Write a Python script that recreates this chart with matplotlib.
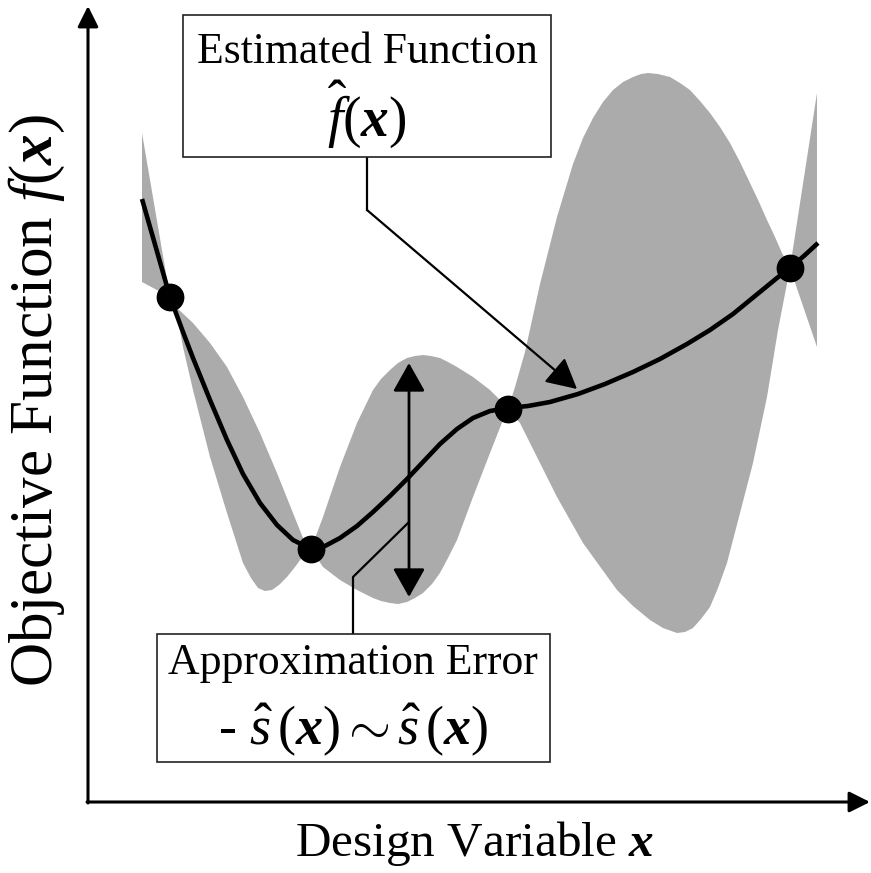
import numpy as np
import matplotlib
matplotlib.use("Agg")
import matplotlib.pyplot as plt
from matplotlib.patches import Rectangle

plt.rcParams['font.family'] = ['Liberation Serif', 'DejaVu Serif']
plt.rcParams['mathtext.fontset'] = 'custom'
plt.rcParams['mathtext.rm'] = 'Liberation Serif'
plt.rcParams['mathtext.it'] = 'Liberation Serif:italic'
plt.rcParams['mathtext.bf'] = 'Liberation Serif:bold'
plt.rcParams['mathtext.bfit'] = 'Liberation Serif:italic:bold'

# estimated function f^(x)
curve_x = [54, 68, 82, 95, 105, 122, 139, 155, 172, 189, 205, 223, 237, 252, 269, 285,
           302, 319, 335, 352, 369, 385, 402, 420, 440, 462, 490, 517, 545, 572, 599,
           622, 645, 667, 689, 702, 717, 730]
curve_y = [603, 554, 505, 470, 444, 402, 362, 328, 299, 277, 262, 253, 256, 264, 276, 290,
           306, 323, 340, 358, 373, 384, 391, 394, 396, 400, 408, 418, 430, 443, 458,
           472, 488, 506, 524, 534, 547, 559]

# sample points
sample_x = [82, 223, 420, 702]
sample_y = [505, 253, 393, 534]

# upper edge of the error band
upper_x = [54, 82, 89, 105, 122, 139, 155, 172, 189, 205, 215, 223,
           235, 252, 269, 285, 293, 302, 310, 319, 327, 335, 343, 352, 360, 369, 385, 402, 415, 420,
           427, 437, 452, 469, 485, 495, 505, 515, 525, 535, 545, 553, 560, 570, 582, 592,
           602, 612, 622, 632, 642, 652, 662, 671, 679, 687, 694, 702, 729]
upper_y = [669, 505, 494, 479, 459, 435, 405, 369, 329, 289, 264, 253,
           285, 335, 379, 412, 423, 432, 439, 444, 446, 447, 446, 444, 440, 435, 425, 412, 399, 393,
           415, 450, 518, 585, 638, 664, 684, 700, 712, 720, 725, 728, 729, 728, 725, 719,
           712, 701, 689, 675, 659, 640, 619, 600, 582, 565, 549, 534, 709]

# lower edge of the error band
lower_x = [54, 82, 88, 95, 105, 122, 139, 155, 163, 170, 177, 184, 191, 199, 207, 215, 223,
           235, 252, 269, 285, 293, 302, 310, 319, 327, 335, 344, 352, 360, 369, 385, 402, 415, 420,
           432, 449, 469, 495, 529, 545, 562, 575, 589, 597, 605, 613, 622, 630, 639, 652,
           665, 679, 690, 702, 729]
lower_y = [520, 505, 492, 455, 412, 345, 289, 239, 224, 214, 211, 212, 217, 225, 235, 246, 253,
           235, 222, 212, 204, 201, 199, 198, 200, 204, 209, 218, 229, 244, 262, 305, 349, 382, 393,
           379, 345, 305, 259, 212, 196, 182, 174, 169, 170, 174, 183, 195, 214, 239, 289,
           339, 405, 472, 534, 455]

fig = plt.figure(figsize=(8.71, 8.73), dpi=100)
ax = fig.add_axes([0, 0, 1, 1])
ax.set_xlim(-88, 783)
ax.set_ylim(-71, 802)
ax.axis('off')

# error band
band_x = upper_x + lower_x[::-1]
band_y = upper_y + lower_y[::-1]
ax.fill(band_x, band_y, color='#ababab', lw=0, zorder=1)

ax.plot(curve_x, curve_y, color='black', lw=3.3, zorder=3, solid_capstyle='butt',
        solid_joinstyle='round')
ax.plot(sample_x, sample_y, 'o', color='black', ms=19, zorder=4)

# axes with arrows
ax.annotate('', xy=(0, 796), xytext=(0, -1),
            arrowprops=dict(arrowstyle='-|>,head_length=0.9,head_width=0.45', lw=2.2,
                            color='black', mutation_scale=14, shrinkA=0, shrinkB=0))
ax.annotate('', xy=(782, 0), xytext=(-1, 0),
            arrowprops=dict(arrowstyle='-|>,head_length=0.9,head_width=0.45', lw=2.2,
                            color='black', mutation_scale=14, shrinkA=0, shrinkB=0))

ax.text(-51, 402, r'Objective Function $f(\mathbfit{x})$', rotation=90,
        ha='center', va='center', fontsize=44)
ax.text(387, -41, r'Design Variable $\mathbfit{x}$', ha='center', va='center', fontsize=35.5)

# approximation error double arrow
ax.annotate('', xy=(321, 439), xytext=(321, 205),
            arrowprops=dict(arrowstyle='<|-|>,head_length=0.8,head_width=0.45', lw=2,
                            color='black', mutation_scale=22, shrinkA=0, shrinkB=0),
            zorder=5)

# leader: estimated function
ax.plot([279, 279], [645, 592], color='black', lw=1.6, zorder=5)
ax.annotate('', xy=(489, 413), xytext=(279, 592),
            arrowprops=dict(arrowstyle='-|>,head_length=0.85,head_width=0.45', lw=1.6,
                            color='black', mutation_scale=22, shrinkA=0, shrinkB=0),
            zorder=5)
# leader: approximation error
ax.plot([265, 265, 320], [168, 225, 279], color='black', lw=1.6, zorder=5)

# boxes
ax.add_patch(Rectangle((95, 645), 368, 142, fc='white', ec='#222222', lw=1.2, zorder=6))
ax.text(279, 750, 'Estimated Function', ha='center', va='center', fontsize=31.5, zorder=7)
ax.text(279, 688, r'$\hat{f}(\mathbfit{x})$', ha='center', va='center', fontsize=40, zorder=7)

ax.add_patch(Rectangle((69, 40), 393, 128, fc='white', ec='#222222', lw=1.2, zorder=6))
ax.text(265, 139, 'Approximation Error', ha='center', va='center', fontsize=31.5, zorder=7)
ax.text(265, 72, r'- $\hat{s}\,(\mathbfit{x})\sim\hat{s}\,(\mathbfit{x})$',
        ha='center', va='center', fontsize=39, zorder=7)

fig.savefig('out.png', dpi=100, facecolor='white')
